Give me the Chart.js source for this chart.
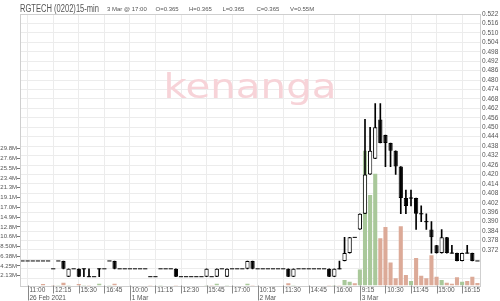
<!DOCTYPE html>
<html>
<head>
<meta charset="utf-8">
<script src="https://cdn.jsdelivr.net/npm/chart.js@4.4.1/dist/chart.umd.min.js"></script>
<style>
  html, body { margin: 0; padding: 0; background: #fff; }
  #wrap { width: 500px; height: 301px; }
</style>
</head>
<body>
<div id="wrap"><canvas id="myChart" width="500" height="301"></canvas></div>
<script>
// 15-min sessions on Bursa (bar end times)
const sessionTimes = ['9:15','9:30','9:45','10:00','10:15','10:30','10:45','11:00','11:15','11:30','11:45','12:00','12:15','12:30',
                      '14:45','15:00','15:15','15:30','15:45','16:00','16:15','16:30','16:45','17:00'];
const days = ['26 Feb 2021', '1 Mar', '2 Mar', '3 Mar'];
const firstDayStart = 6; // chart starts at 26 Feb 10:45

const opens  = [0.365,0.365,0.365,0.365,0.365,0.365,0.36,0.365,0.365,0.355,0.36,0.36,0.36,0.355,0.355,0.36,0.36,0.365,
                0.365,0.36,0.36,0.36,0.36,0.36,0.36,0.355,0.355,0.36,0.36,0.36,0.36,0.355,0.355,0.355,0.355,0.355,0.355,0.355,0.355,0.36,0.355,0.36,
                0.36,0.36,0.36,0.365,0.36,0.36,0.36,0.36,0.36,0.36,0.36,0.355,0.36,0.36,0.36,0.36,0.36,0.36,0.36,0.355,0.36,0.365,0.37,0.38,
                0.385,0.395,0.42,0.43,0.455,0.445,0.44,0.435,0.425,0.405,0.405,0.405,0.395,0.39,0.385,0.375,0.37,0.38,0.37,0.37,0.365,0.37,0.37,0.365];
const highs  = [0.365,0.365,0.365,0.365,0.365,0.365,0.36,0.365,0.365,0.36,0.36,0.36,0.36,0.36,0.355,0.36,0.36,0.365,
                0.365,0.36,0.36,0.36,0.36,0.36,0.36,0.355,0.355,0.36,0.36,0.36,0.36,0.355,0.355,0.355,0.355,0.355,0.36,0.355,0.36,0.36,0.36,0.36,
                0.36,0.36,0.365,0.365,0.36,0.36,0.36,0.36,0.36,0.36,0.36,0.36,0.36,0.36,0.36,0.36,0.36,0.36,0.36,0.36,0.365,0.38,0.38,0.38,
                0.395,0.455,0.45,0.465,0.465,0.445,0.44,0.435,0.425,0.41,0.41,0.405,0.40,0.395,0.39,0.375,0.385,0.38,0.375,0.37,0.37,0.375,0.37,0.365];
const lows   = [0.365,0.365,0.365,0.365,0.365,0.365,0.36,0.365,0.36,0.355,0.36,0.355,0.355,0.355,0.355,0.355,0.36,0.365,
                0.36,0.36,0.36,0.36,0.36,0.36,0.36,0.355,0.355,0.36,0.36,0.36,0.355,0.355,0.355,0.355,0.355,0.355,0.355,0.355,0.355,0.36,0.355,0.36,
                0.36,0.36,0.36,0.36,0.36,0.36,0.36,0.36,0.36,0.36,0.355,0.355,0.36,0.36,0.36,0.36,0.36,0.36,0.355,0.355,0.36,0.365,0.37,0.38,
                0.385,0.395,0.42,0.43,0.44,0.425,0.425,0.42,0.395,0.395,0.40,0.385,0.39,0.385,0.37,0.37,0.37,0.37,0.37,0.365,0.365,0.37,0.365,0.365];
const closes = [0.365,0.365,0.365,0.365,0.365,0.365,0.36,0.365,0.36,0.36,0.36,0.355,0.36,0.355,0.355,0.36,0.36,0.365,
                0.36,0.36,0.36,0.36,0.36,0.36,0.36,0.355,0.355,0.36,0.36,0.36,0.355,0.355,0.355,0.355,0.355,0.355,0.36,0.355,0.36,0.36,0.36,0.36,
                0.36,0.36,0.365,0.36,0.36,0.36,0.36,0.36,0.36,0.36,0.355,0.36,0.36,0.36,0.36,0.36,0.36,0.36,0.355,0.36,0.36,0.37,0.38,0.38,
                0.395,0.42,0.435,0.45,0.44,0.44,0.435,0.425,0.405,0.40,0.405,0.395,0.395,0.39,0.38,0.37,0.38,0.37,0.37,0.365,0.37,0.37,0.365,0.365];
// volume in millions
const volumes = [0,0,0,0,0.3,0,0.1,0.1,0.6,0.1,0,0.3,0.1,0.1,0,0.4,0,0.1,
                 0.4,0,0,0,0,0,0,0.1,0,0.1,0,0,0.1,0,0,0,0,0,0.1,0.1,0.4,0,0.1,0,
                 0,0,0.4,0.1,0,0,0,0,0,0,0.5,0.1,0,0,0,0,0,0,0.1,0.1,0.1,1.2,0.8,0.5,
                 3.5,29.3,19.7,24.3,10.3,12.7,5.0,1.6,12.9,2.3,1.0,6.0,2.1,1.6,6.6,1.9,1.2,0.6,0.4,1.8,0.8,1.0,1.9,0.55];

const priceTicks = [0.354,0.360,0.366,0.372,0.378,0.384,0.390,0.396,0.402,0.408,0.414,0.420,0.426,0.432,0.438,0.444,0.450,
                    0.456,0.462,0.468,0.474,0.480,0.486,0.492,0.498,0.504,0.510,0.516,0.522];
const firstPriceLabel = 0.372;
const volTicks  = [2.125,4.25,6.375,8.5,10.625,12.75,14.875,17.0,19.125,21.25,23.375,25.5,27.625,29.75];
const volLabels = ['2.13M','4.25M','6.38M','8.50M','10.6M','12.8M','14.9M','17.0M','19.1M','21.3M','23.4M','25.5M','27.6M','29.8M'];

const titleText = 'RGTECH (0202)15-min';
const infoText = ['3 Mar @ 17:00', 'O=0.365', 'H=0.365', 'L=0.365', 'C=0.365', 'V=0.55M'];
const watermark = 'kenanga';

// build categories
const labels = [];
const dayOf = [];
days.forEach((d, di) => {
    const start = di === 0 ? firstDayStart : 0;
    for (let s = start; s < sessionTimes.length; s++) {
        labels.push(sessionTimes[s]);
        dayOf.push(di);
    }
});

const LABEL_EVERY = 5, LABEL_FROM = 1;
// date goes under the first shown label of each day
const dateAt = {};
const seenDays = new Set();
labels.forEach((l, i) => {
    if (i % LABEL_EVERY === LABEL_FROM && !seenDays.has(dayOf[i])) {
        seenDays.add(dayOf[i]);
        dateAt[i] = days[dayOf[i]];
    }
});

const UP = '#a9c89a', DOWN = '#dcaa98';
const dir = closes.map((c, i) => c > opens[i] ? 1 : c < opens[i] ? -1 : (i > 0 && c > closes[i - 1] ? 1 : -1));

const bodyData = opens.map((o, i) => o === closes[i] ? null : [o, closes[i]]);
const wickData = highs.map((h, i) => h === lows[i] ? null : [lows[i], h]);
const dashData = opens.map((o, i) => o === closes[i] ? o : null);

const FONT = '"Liberation Sans Narrow", "Liberation Sans", Arial, sans-serif';

const decor = {
    id: 'decor',
    beforeDatasetsDraw(chart) {
        const {ctx, chartArea: a} = chart;
        ctx.save();
        ctx.fillStyle = '#f7d3d8';
        ctx.font = '34px "DejaVu Sans"';
        const w = ctx.measureText(watermark).width;
        ctx.translate((a.left + a.right) / 2, 98);
        ctx.scale(173 / w, 1);
        ctx.textAlign = 'center';
        ctx.textBaseline = 'alphabetic';
        ctx.fillText(watermark, 0, 0);
        ctx.restore();
    },
    afterDraw(chart) {
        const {ctx, chartArea: a} = chart;
        const xs = chart.scales.x;
        ctx.save();
        // frame
        ctx.strokeStyle = '#cfcfcf';
        ctx.lineWidth = 1;
        ctx.strokeRect(Math.round(a.left) + 0.5, Math.round(a.top) + 0.5, Math.round(a.right - a.left), Math.round(a.bottom - a.top));
        // x tick marks beside the labels
        ctx.strokeStyle = '#888';
        xs.ticks.forEach(t => {
            const x = Math.round(xs.getPixelForValue(t.value)) + 0.5;
            ctx.beginPath();
            ctx.moveTo(x, a.bottom);
            ctx.lineTo(x, a.bottom + (dateAt[t.value] ? 15 : 8));
            ctx.stroke();
        });
        // header
        ctx.fillStyle = '#555';
        ctx.textBaseline = 'middle';
        ctx.font = '10px "Liberation Sans"';
        const tw = ctx.measureText(titleText).width;
        ctx.save();
        ctx.translate(20, 9);
        ctx.scale(79 / tw, 1);
        ctx.fillText(titleText, 0, 0);
        ctx.restore();
        ctx.font = '6px "Liberation Sans"';
        const infoX = [107, 155.5, 189, 222.5, 256.5, 290];
        infoText.forEach((s, k) => ctx.fillText(s, infoX[k], 9));
        ctx.restore();
    }
};

const ctx = document.getElementById('myChart').getContext('2d');
const myChart = new Chart(ctx, {
    data: {
        labels: labels,
        datasets: [
            {
                type: 'line',
                data: dashData,
                yAxisID: 'yPrice',
                showLine: false,
                pointStyle: 'line',
                pointRadius: 2.1,
                pointBorderWidth: 1,
                borderColor: '#000',
                pointBorderColor: '#000',
                order: 1
            },
            {
                type: 'bar',
                data: bodyData,
                yAxisID: 'yPrice',
                backgroundColor: closes.map((c, i) => c > opens[i] ? '#fff' : '#000'),
                borderColor: '#000',
                borderWidth: 1,
                borderSkipped: false,
                barPercentage: 0.84,
                categoryPercentage: 1,
                grouped: false,
                order: 2
            },
            {
                type: 'bar',
                data: wickData,
                yAxisID: 'yPrice',
                backgroundColor: '#000',
                barThickness: 1,
                grouped: false,
                order: 3
            },
            {
                type: 'bar',
                data: volumes,
                yAxisID: 'yVol',
                backgroundColor: dir.map(d => d > 0 ? UP : DOWN),
                barPercentage: 0.8,
                categoryPercentage: 1,
                grouped: false,
                order: 4
            }
        ]
    },
    options: {
        responsive: false,
        animation: false,
        devicePixelRatio: 1,
        layout: { padding: { top: 14, left: 0, right: 0, bottom: 0 } },
        plugins: { legend: { display: false }, tooltip: { enabled: false } },
        scales: {
            x: {
                type: 'category',
                offset: true,
                border: { display: false },
                grid: {
                    offset: false,
                    color: '#ececec',
                    drawTicks: false
                },
                afterBuildTicks: s => { s.ticks = s.ticks.filter(t => t.value % LABEL_EVERY === LABEL_FROM); },
                afterFit: s => { s.height = 15.5; },
                ticks: {
                    autoSkip: false,
                    maxRotation: 0,
                    align: 'start',
                    padding: 1,
                    color: '#555',
                    font: { family: FONT, size: 6.5 },
                    callback: function (v) {
                        const t = ' ' + labels[v];
                        return dateAt[v] ? [t, ' ' + dateAt[v]] : t;
                    }
                }
            },
            yPrice: {
                position: 'right',
                min: 0.3494,
                max: 0.522,
                border: { display: false },
                grid: { color: '#ececec', drawTicks: false },
                afterBuildTicks: s => { s.ticks = priceTicks.map(v => ({ value: v })); },
                afterFit: s => { s.width = 20; },
                ticks: {
                    autoSkip: false,
                    padding: 2,
                    color: '#555',
                    font: { family: FONT, size: 6.5 },
                    callback: v => v >= firstPriceLabel - 1e-9 ? v.toFixed(3) : ''
                }
            },
            yVol: {
                position: 'left',
                min: 0,
                max: 59.05,
                border: { display: false },
                grid: { drawOnChartArea: false, tickLength: 3, tickColor: '#777' },
                afterBuildTicks: s => { s.ticks = volTicks.map(v => ({ value: v })); },
                afterFit: s => { s.width = 20; },
                ticks: {
                    autoSkip: false,
                    padding: 0,
                    color: '#555',
                    font: { family: FONT, size: 6 },
                    callback: v => volLabels[volTicks.indexOf(v)]
                }
            }
        }
    },
    plugins: [decor]
});
</script>
</body>
</html>
